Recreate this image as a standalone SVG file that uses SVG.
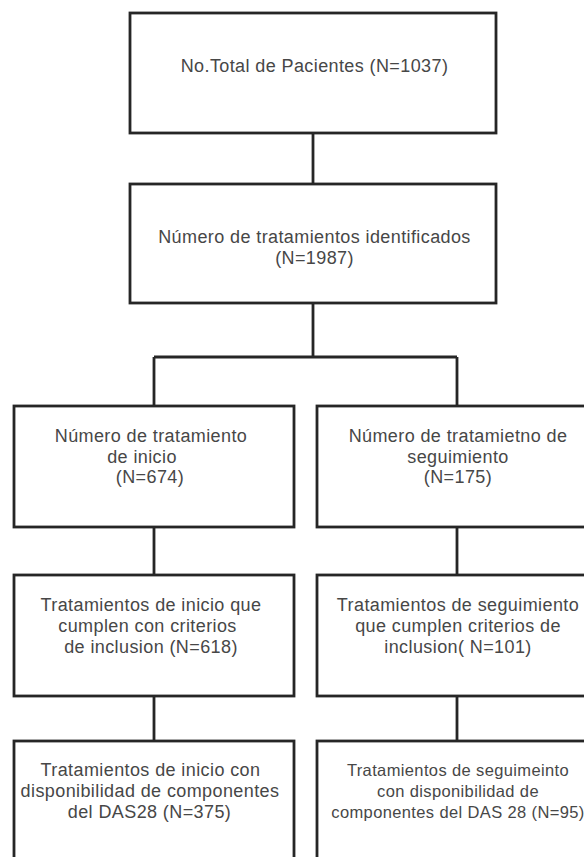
<svg xmlns="http://www.w3.org/2000/svg" width="584" height="857" viewBox="0 0 584 857">
<style>
.box{fill:#fff;stroke:#262626;stroke-width:2.8}
.ln{fill:none;stroke:#262626;stroke-width:2.8}
text{font-family:"Liberation Sans",Arial,sans-serif;font-size:18px;letter-spacing:0.4px;fill:#474747;text-anchor:middle}
.sm{font-size:16.5px;letter-spacing:0.37px}
</style>
<rect width="584" height="857" fill="#fff"/>
<g id="connectors">
<path class="ln" d="M313 133V184"/>
<path class="ln" d="M313 303V357M154 357H457M154 357V406M457 357V406"/>
<path class="ln" d="M154 527V575M457 527V575"/>
<path class="ln" d="M154 696V741M457 696V741"/>
</g>
<g id="n1">
<rect class="box" x="130" y="13" width="366" height="120"/>
<text x="314.5" y="72">No.Total de Pacientes (N=1037)</text>
</g>
<g id="n2">
<rect class="box" x="130" y="184" width="366" height="119"/>
<text x="314.5" y="243">Número de tratamientos identificados</text>
<text x="314.5" y="264">(N=1987)</text>
</g>
<g id="n3">
<rect class="box" x="14" y="406" width="280" height="121"/>
<text x="151" y="442">Número de tratamiento</text>
<text x="142" y="463">de inicio</text>
<text x="150" y="483">(N=674)</text>
</g>
<g id="n4">
<rect class="box" x="317" y="406" width="280" height="121"/>
<text x="458" y="442">Número de tratamietno de</text>
<text x="458" y="463">seguimiento</text>
<text x="458" y="483">(N=175)</text>
</g>
<g id="n5">
<rect class="box" x="14" y="575" width="280" height="121"/>
<text x="151" y="611">Tratamientos de inicio que</text>
<text x="147.5" y="632">cumplen con criterios</text>
<text x="151" y="653">de inclusion (N=618)</text>
</g>
<g id="n6">
<rect class="box" x="317" y="575" width="280" height="121"/>
<text x="458" y="611">Tratamientos de seguimiento</text>
<text x="458" y="632">que cumplen criterios de</text>
<text x="458" y="653">inclusion( N=101)</text>
</g>
<g id="n7">
<rect class="box" x="14" y="741" width="280" height="121"/>
<text x="150.5" y="776">Tratamientos de inicio con</text>
<text x="150" y="797">disponibilidad de componentes</text>
<text x="149.5" y="818">del DAS28 (N=375)</text>
</g>
<g id="n8">
<rect class="box" x="317" y="741" width="280" height="121"/>
<text class="sm" x="458" y="776">Tratamientos de seguimeinto</text>
<text class="sm" x="458" y="797">con disponibilidad de</text>
<text class="sm" x="458" y="818">componentes del DAS 28 (N=95)</text>
</g>
</svg>
